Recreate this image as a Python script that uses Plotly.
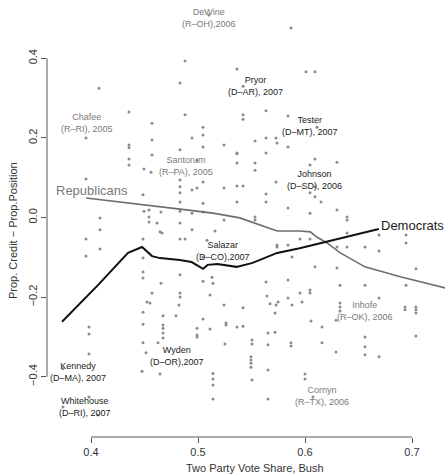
import plotly.graph_objects as go

# ---- data ----
vote_share = [
    0.5869, 0.5103, 0.4879, 0.4832, 0.5364, 0.6009, 0.6093, 0.4075, 0.4355, 0.4879,
    0.4570, 0.5421, 0.5421, 0.5636, 0.5841, 0.5047, 0.5047, 0.4944, 0.4570, 0.3953,
    0.5533, 0.5636, 0.5729, 0.5738, 0.5841, 0.4355, 0.4355, 0.4832, 0.5047, 0.5243,
    0.5364, 0.5636, 0.6093, 0.4355, 0.4570, 0.4355, 0.4495, 0.4561, 0.5364, 0.5364,
    0.5533, 0.5533, 0.6047, 0.6299, 0.3953, 0.4832, 0.4832, 0.4944, 0.4991, 0.5047,
    0.5243, 0.5364, 0.5421, 0.5729, 0.6093, 0.6047, 0.6093, 0.6150, 0.4832, 0.4832,
    0.4486, 0.5636, 0.5636, 0.5364, 0.4495, 0.4542, 0.4654, 0.4832, 0.4944, 0.5047,
    0.5243, 0.5533, 0.5533, 0.5841, 0.6047, 0.6299, 0.6393, 0.6393, 0.4084, 0.4542,
    0.4542, 0.4617, 0.4645, 0.4664, 0.4832, 0.4944, 0.5159, 0.4084, 0.3953, 0.4486,
    0.4832, 0.4879, 0.5738, 0.5738, 0.5841, 0.5953, 0.6047, 0.6299, 0.6393, 0.6393,
    0.6561, 0.6692, 0.6944, 0.6944, 0.4084, 0.3953, 0.4486, 0.5047, 0.5879, 0.4486,
    0.4486, 0.4654, 0.4832, 0.5047, 0.5140, 0.5636, 0.5841, 0.6093, 0.6299, 0.7037,
    0.4570, 0.4832, 0.4832, 0.5112, 0.5645, 0.5748, 0.5841, 0.5953, 0.6047, 0.6047,
    0.6327, 0.6561, 0.6944, 0.4523, 0.4551, 0.4822, 0.5243, 0.5421, 0.5673, 0.5729,
    0.5879, 0.5972, 0.6327, 0.6327, 0.6327, 0.6935, 0.6935, 0.7037, 0.7037, 0.7037,
    0.5720, 0.4486, 0.4673, 0.4794, 0.5047, 0.5262, 0.5262, 0.5364, 0.5421, 0.6056,
    0.6290, 0.4486, 0.4673, 0.4673, 0.4673, 0.4673, 0.3981, 0.3981, 0.4991, 0.4991,
    0.4991, 0.5112, 0.5654, 0.5720, 0.6159, 0.6159, 0.6561, 0.6561, 0.7037, 0.4486,
    0.4514, 0.4626, 0.5252, 0.5505, 0.5505, 0.5654, 0.5869, 0.5869, 0.3981, 0.5495,
    0.5495, 0.5495, 0.5495, 0.6290, 0.6561, 0.6692, 0.4477, 0.4645, 0.5140, 0.5140,
    0.5140, 0.5140, 0.5505, 0.5654, 0.5654, 0.6000, 0.6000, 0.5421, 0.6112, 0.4991,
    0.5084, 0.3738, 0.3981, 0.3738, 0.4065, 0.6075, 0.6692, 0.6692, 0.5131, 0.5047,
]
cred_diff = [
    0.476, 0.509, 0.393, 0.338, 0.373, 0.366, 0.366, 0.325, 0.265, 0.258,
    0.237, 0.258, 0.247, 0.268, 0.255, 0.227, 0.207, 0.200, 0.195, 0.200,
    0.192, 0.200, 0.200, 0.187, 0.177, 0.182, 0.175, 0.170, 0.177, 0.182,
    0.162, 0.162, 0.147, 0.147, 0.157, 0.132, 0.122, 0.114, 0.160, 0.137,
    0.137, 0.119, 0.132, 0.139, 0.097, 0.094, 0.077, 0.069, 0.074, 0.089,
    0.074, 0.079, 0.079, 0.089, 0.077, 0.062, 0.052, 0.039, 0.062, 0.039,
    0.057, 0.059, 0.039, 0.039, 0.016, 0.019, 0.014, 0.016, 0.011, 0.014,
    -0.006, 0.001, -0.006, 0.024, 0.011, 0.019, 0.001, -0.006, -0.001, 0.001,
    -0.011, -0.014, -0.036, -0.039, -0.014, -0.031, -0.034, -0.031, -0.054, -0.054,
    -0.054, -0.054, -0.069, -0.074, -0.069, -0.054, -0.054, -0.074, -0.039, -0.074,
    -0.074, -0.044, -0.044, -0.064, -0.079, -0.097, -0.102, -0.099, -0.099, -0.137,
    -0.152, -0.165, -0.144, -0.160, -0.165, -0.162, -0.157, -0.124, -0.127, -0.129,
    -0.190, -0.190, -0.200, -0.195, -0.197, -0.212, -0.202, -0.190, -0.182, -0.190,
    -0.170, -0.170, -0.170, -0.212, -0.215, -0.220, -0.220, -0.227, -0.217, -0.220,
    -0.220, -0.212, -0.215, -0.225, -0.235, -0.225, -0.232, -0.225, -0.232, -0.240,
    -0.240, -0.238, -0.247, -0.247, -0.255, -0.265, -0.270, -0.275, -0.273, -0.260,
    -0.258, -0.268, -0.270, -0.278, -0.290, -0.303, -0.275, -0.293, -0.278, -0.295,
    -0.300, -0.280, -0.290, -0.288, -0.275, -0.315, -0.300, -0.325, -0.298, -0.315,
    -0.340, -0.315, -0.318, -0.308, -0.318, -0.320, -0.315, -0.323, -0.343, -0.350,
    -0.358, -0.366, -0.376, -0.338, -0.345, -0.350, -0.386, -0.393, -0.392, -0.406,
    -0.421, -0.456, -0.408, -0.383, -0.456, -0.393, -0.406, 0.330, 0.227, 0.144,
    -0.057, -0.380, -0.451, -0.476, -0.496, -0.451, -0.084, -0.202, -0.150, 0.036,
]

rep_x = [0.3953, 0.4486, 0.4832, 0.5140, 0.5390, 0.5740, 0.5950, 0.6050, 0.6110,
         0.6206, 0.6330, 0.6560, 0.6890, 0.7310]
rep_y = [0.049, 0.031, 0.021, 0.011, -0.001, -0.034, -0.034, -0.036, -0.049,
         -0.064, -0.089, -0.124, -0.149, -0.177]

dem_x = [0.3729, 0.4065, 0.4346, 0.4477, 0.4570, 0.4645, 0.4830, 0.4940, 0.5047,
         0.5090, 0.5180, 0.5360, 0.5510, 0.5740, 0.5950, 0.6260, 0.6690]
dem_y = [-0.262, -0.170, -0.089, -0.074, -0.097, -0.102, -0.107, -0.112, -0.129,
         -0.119, -0.117, -0.124, -0.114, -0.089, -0.077, -0.057, -0.029]

label_text = ["DeWine<br>(R–OH),2006", "Pryor<br>(D–AR), 2007", "Chafee<br>(R–RI), 2005",
              "Tester<br>(D–MT), 2007", "Santorum<br>(R–PA), 2005", "Johnson<br>(D–SD), 2006",
              "Salazar<br>(D–CO),2007", "Inhofe<br>(R–OK), 2006", "Wyden<br>(D–OR),2007",
              "Kennedy<br>(D–MA), 2007", "Whitehouse<br>(D–RI), 2007", "Cornyn<br>(R–TX), 2006"]
label_party = ["R", "D", "R", "D", "R", "D", "D", "R", "D", "D", "D", "R"]
label_x = [0.5103, 0.5533, 0.3963, 0.6047, 0.4888, 0.6093, 0.5234, 0.6561, 0.4804,
           0.3879, 0.3944, 0.6159]
label_y = [0.501, 0.330, 0.237, 0.230, 0.129, 0.094, -0.084, -0.235, -0.348,
           -0.388, -0.476, -0.448]

x_ticks = [0.4, 0.5, 0.6, 0.7]
y_ticks = [-0.4, -0.2, 0.0, 0.2, 0.4]

FONT = "Liberation Sans, Arial, sans-serif"
DARK = "#222222"
GREY = "#7a7a7a"

fig = go.Figure()
fig.add_trace(go.Scatter(x=vote_share, y=cred_diff, mode="markers",
                         marker=dict(size=3, color="#8c8c8c"), hoverinfo="skip",
                         showlegend=False))
fig.add_trace(go.Scatter(x=rep_x, y=rep_y, mode="lines",
                         line=dict(color="#6e6e6e", width=1.6), showlegend=False))
fig.add_trace(go.Scatter(x=dem_x, y=dem_y, mode="lines",
                         line=dict(color="#111111", width=2), showlegend=False))

for t, p, lx, ly in zip(label_text, label_party, label_x, label_y):
    fig.add_annotation(x=lx, y=ly, text=t, showarrow=False, xanchor="center",
                       yanchor="middle", align="center",
                       font=dict(family=FONT, size=9, color=DARK if p == "D" else GREY))

fig.add_annotation(x=0.3654, y=0.069, text="Republicans", showarrow=False,
                   xanchor="left", yanchor="middle",
                   font=dict(family=FONT, size=13, color=GREY))
fig.add_annotation(x=0.6692, y=-0.021, text="Democrats", showarrow=False,
                   xanchor="left", yanchor="middle",
                   font=dict(family=FONT, size=13, color=DARK))

fig.add_annotation(xref="paper", yref="paper", x=0.5226, y=-0.071,
                   text="Two Party Vote Share, Bush", showarrow=False,
                   xanchor="center", yanchor="middle",
                   font=dict(family=FONT, size=11, color="#333333"))
fig.add_annotation(xref="paper", yref="paper", x=-0.0854, y=0.4714,
                   text="Prop. Credit − Prop.Position", showarrow=False, textangle=-90,
                   xanchor="center", yanchor="middle",
                   font=dict(family=FONT, size=11, color="#333333"))

# R-style axis lines spanning only the tick range
fig.add_shape(type="line", xref="x", yref="paper", x0=min(x_ticks), x1=max(x_ticks),
              y0=0, y1=0, line=dict(color="#555555", width=1))
fig.add_shape(type="line", xref="paper", yref="y", x0=0, x1=0, y0=min(y_ticks),
              y1=max(y_ticks), line=dict(color="#555555", width=1))

fig.update_xaxes(range=[0.35888, 0.73084], tickvals=x_ticks, tickformat=".1f",
                 showgrid=False, zeroline=False, showline=False, ticks="outside",
                 ticklen=5, tickcolor="#555555",
                 tickfont=dict(family=FONT, size=11, color="#333333"))
fig.update_yaxes(range=[-0.5515, 0.5465], tickvals=y_ticks, tickformat=".1f",
                 showgrid=False, zeroline=False, showline=False, ticks="outside",
                 ticklen=5, tickcolor="#555555", tickangle=-90,
                 tickfont=dict(family=FONT, size=11, color="#333333"))

fig.update_layout(width=445, height=475, margin=dict(l=47, r=0, t=0, b=38),
                  plot_bgcolor="white", paper_bgcolor="white")

fig.write_html("out.html", config={"displayModeBar": False})

# remove default page margin so the figure sits at the window's top-left
with open("out.html", "r", encoding="utf-8") as f:
    html = f.read()
html = html.replace("<head>", "<head><style>html,body{margin:0;padding:0;overflow:hidden;}</style>", 1)
with open("out.html", "w", encoding="utf-8") as f:
    f.write(html)
